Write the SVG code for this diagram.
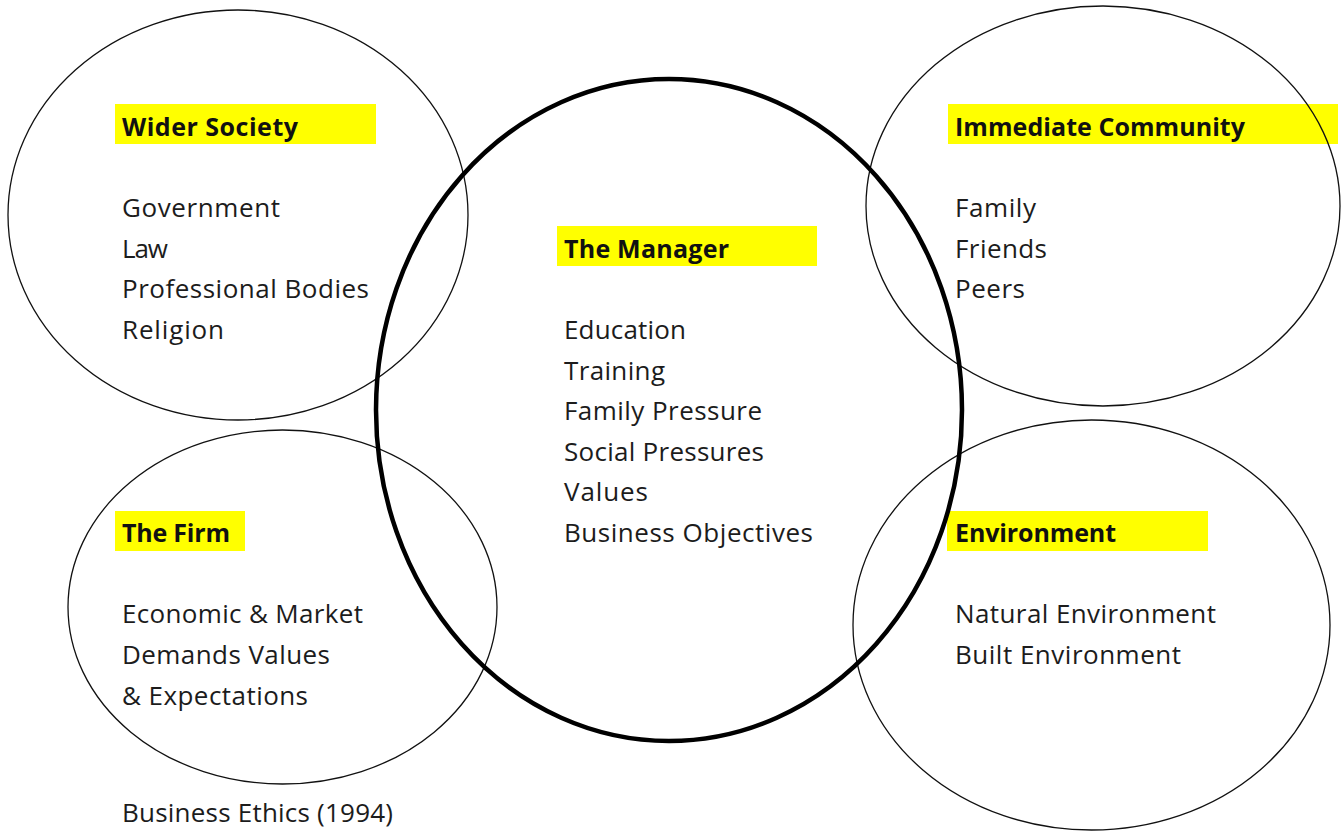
<svg xmlns="http://www.w3.org/2000/svg" width="1341" height="831" viewBox="0 0 1341 831">
<style>
.bg{fill:#ffffff}
.ring{fill:none;stroke:#111;stroke-width:1.3}
.ring-main{fill:none;stroke:#000;stroke-width:4.5}
.hl{fill:#ffff00}
.title{font-family:"Open Sans","Liberation Sans",sans-serif;font-weight:bold;font-size:25px;fill:#111}
.item{font-family:"Open Sans","Liberation Sans",sans-serif;font-size:26px;fill:#1c1c1c}
</style>
<rect class="bg" x="0" y="0" width="1341" height="831"/>
<g id="connectors"></g>
<g id="wider-society">
<rect class="hl" x="115" y="104" width="261" height="40"/>
<ellipse class="ring" cx="238" cy="215" rx="230" ry="205"/>
<text class="title" x="122" y="136" textLength="176">Wider Society</text>
<text class="item" x="122" y="217" textLength="158">Government</text>
<text class="item" x="122" y="258" textLength="46">Law</text>
<text class="item" x="122" y="298" textLength="247">Professional Bodies</text>
<text class="item" x="122" y="339" textLength="102">Religion</text>
</g>
<g id="the-firm">
<rect class="hl" x="115" y="511" width="130" height="40"/>
<ellipse class="ring" cx="282.5" cy="607" rx="214.5" ry="177"/>
<text class="title" x="122" y="542" textLength="108">The Firm</text>
<text class="item" x="122" y="623" textLength="241">Economic &amp; Market</text>
<text class="item" x="122" y="664" textLength="208">Demands Values</text>
<text class="item" x="122" y="705" textLength="186">&amp; Expectations</text>
</g>
<g id="immediate-community">
<rect class="hl" x="948" y="104" width="390" height="40"/>
<ellipse class="ring" cx="1103" cy="206" rx="237" ry="200"/>
<text class="title" x="955" y="136" textLength="290">Immediate Community</text>
<text class="item" x="955" y="217" textLength="81">Family</text>
<text class="item" x="955" y="258" textLength="92">Friends</text>
<text class="item" x="955" y="298" textLength="70">Peers</text>
</g>
<g id="environment">
<rect class="hl" x="947" y="511" width="261" height="40"/>
<ellipse class="ring" cx="1091.5" cy="625" rx="238.5" ry="205"/>
<text class="title" x="955" y="542" textLength="161">Environment</text>
<text class="item" x="955" y="623" textLength="261">Natural Environment</text>
<text class="item" x="955" y="664" textLength="226">Built Environment</text>
</g>
<g id="the-manager">
<rect class="hl" x="557" y="226" width="260" height="40"/>
<ellipse class="ring-main" cx="669" cy="410" rx="293" ry="331"/>
<text class="title" x="564" y="258" textLength="165">The Manager</text>
<text class="item" x="564" y="339" textLength="122">Education</text>
<text class="item" x="564" y="380" textLength="101">Training</text>
<text class="item" x="564" y="420" textLength="198">Family Pressure</text>
<text class="item" x="564" y="461" textLength="200">Social Pressures</text>
<text class="item" x="564" y="501" textLength="84">Values</text>
<text class="item" x="564" y="542" textLength="249">Business Objectives</text>
</g>
<g id="source">
<text class="item" x="122" y="822" textLength="271">Business Ethics (1994)</text>
</g>
</svg>
